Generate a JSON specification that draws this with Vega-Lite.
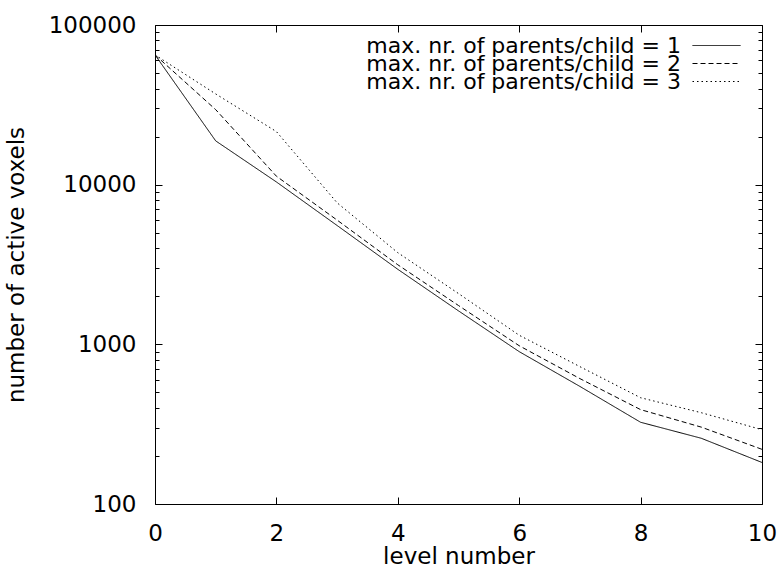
{
  "$schema": "https://vega.github.io/schema/vega-lite/v6.json",
  "width": 607,
  "height": 479,
  "autosize": "none",
  "padding": {"left": 155, "top": 25, "right": 17, "bottom": 63},
  "background": "white",
  "config": {
    "font": "DejaVu Sans",
    "view": {"stroke": "black", "strokeWidth": 1},
    "axis": {"grid": false, "domain": false, "tickColor": "black", "tickWidth": 1, "labelColor": "black", "titleColor": "black", "labelFont": "DejaVu Sans", "titleFont": "DejaVu Sans", "labelFontSize": 23, "titleFontSize": 23, "titleFontWeight": "normal", "labelFlush": false},
    "legend": {"orient": "none", "title": null, "symbolType": "stroke", "symbolSize": 2304, "symbolStrokeColor": "black", "symbolStrokeWidth": 1, "labelAlign": "right", "labelOffset": -60, "labelFontSize": 22, "labelFont": "DejaVu Sans", "labelColor": "black", "labelLimit": 600, "padding": 0}
  },
  "data": {
    "values": [
      {"series": "max. nr. of parents/child = 1", "level": 0, "voxels": 65000},
      {"series": "max. nr. of parents/child = 1", "level": 1, "voxels": 18800},
      {"series": "max. nr. of parents/child = 1", "level": 2, "voxels": 10400},
      {"series": "max. nr. of parents/child = 1", "level": 3, "voxels": 5550},
      {"series": "max. nr. of parents/child = 1", "level": 4, "voxels": 2950},
      {"series": "max. nr. of parents/child = 1", "level": 5, "voxels": 1620},
      {"series": "max. nr. of parents/child = 1", "level": 6, "voxels": 900},
      {"series": "max. nr. of parents/child = 1", "level": 7, "voxels": 545},
      {"series": "max. nr. of parents/child = 1", "level": 8, "voxels": 325},
      {"series": "max. nr. of parents/child = 1", "level": 9, "voxels": 258},
      {"series": "max. nr. of parents/child = 1", "level": 10, "voxels": 182},
      {"series": "max. nr. of parents/child = 2", "level": 0, "voxels": 65000},
      {"series": "max. nr. of parents/child = 2", "level": 1, "voxels": 29500},
      {"series": "max. nr. of parents/child = 2", "level": 2, "voxels": 11300},
      {"series": "max. nr. of parents/child = 2", "level": 3, "voxels": 6000},
      {"series": "max. nr. of parents/child = 2", "level": 4, "voxels": 3150},
      {"series": "max. nr. of parents/child = 2", "level": 5, "voxels": 1750},
      {"series": "max. nr. of parents/child = 2", "level": 6, "voxels": 980},
      {"series": "max. nr. of parents/child = 2", "level": 7, "voxels": 610},
      {"series": "max. nr. of parents/child = 2", "level": 8, "voxels": 390},
      {"series": "max. nr. of parents/child = 2", "level": 9, "voxels": 303},
      {"series": "max. nr. of parents/child = 2", "level": 10, "voxels": 220},
      {"series": "max. nr. of parents/child = 3", "level": 0, "voxels": 65000},
      {"series": "max. nr. of parents/child = 3", "level": 1, "voxels": 37000},
      {"series": "max. nr. of parents/child = 3", "level": 2, "voxels": 21500},
      {"series": "max. nr. of parents/child = 3", "level": 3, "voxels": 7700},
      {"series": "max. nr. of parents/child = 3", "level": 4, "voxels": 3750},
      {"series": "max. nr. of parents/child = 3", "level": 5, "voxels": 2080},
      {"series": "max. nr. of parents/child = 3", "level": 6, "voxels": 1140},
      {"series": "max. nr. of parents/child = 3", "level": 7, "voxels": 725},
      {"series": "max. nr. of parents/child = 3", "level": 8, "voxels": 463},
      {"series": "max. nr. of parents/child = 3", "level": 9, "voxels": 373},
      {"series": "max. nr. of parents/child = 3", "level": 10, "voxels": 292}
    ]
  },
  "layer": [
    {
      "transform": [{"filter": "datum.series == 'max. nr. of parents/child = 1'"}],
      "mark": {"type": "line", "color": "black", "strokeWidth": 1, "clip": true},
      "encoding": {
        "x": {
          "field": "level", "type": "quantitative",
          "scale": {"domain": [0, 10], "nice": false, "zero": false},
          "axis": {"orient": "bottom", "values": [0, 2, 4, 6, 8, 10], "offset": -7, "tickSize": 7, "labelPadding": 18, "title": "level number", "titlePadding": 0}
        },
        "y": {
          "field": "voxels", "type": "quantitative",
          "scale": {"type": "log", "domain": [100, 100000], "nice": false},
          "axis": {"orient": "left", "values": [100, 1000, 10000, 100000], "format": "d", "offset": -7, "tickSize": 7, "labelPadding": 19, "title": "number of active voxels", "titlePadding": 20}
        },
        "strokeDash": {
          "field": "series", "type": "nominal",
          "scale": {"domain": ["max. nr. of parents/child = 1"], "range": [[1, 0]]},
          "legend": {"legendX": 537, "legendY": -4}
        }
      }
    },
    {
      "transform": [{"filter": "datum.series == 'max. nr. of parents/child = 2'"}],
      "mark": {"type": "line", "color": "black", "strokeWidth": 1, "clip": true},
      "encoding": {
        "x": {"field": "level", "type": "quantitative", "axis": null},
        "y": {"field": "voxels", "type": "quantitative", "axis": null},
        "strokeDash": {
          "field": "series", "type": "nominal",
          "scale": {"domain": ["max. nr. of parents/child = 2"], "range": [[5, 3]]},
          "legend": {"legendX": 537, "legendY": 14}
        }
      }
    },
    {
      "transform": [{"filter": "datum.series == 'max. nr. of parents/child = 3'"}],
      "mark": {"type": "line", "color": "black", "strokeWidth": 1, "clip": true},
      "encoding": {
        "x": {"field": "level", "type": "quantitative", "axis": null},
        "y": {"field": "voxels", "type": "quantitative", "axis": null},
        "strokeDash": {
          "field": "series", "type": "nominal",
          "scale": {"domain": ["max. nr. of parents/child = 3"], "range": [[1.5, 3]]},
          "legend": {"legendX": 537, "legendY": 32}
        }
      }
    },
    {
      "mark": {"type": "line", "opacity": 0},
      "encoding": {
        "x": {"field": "level", "type": "quantitative", "axis": {"orient": "top", "values": [0, 2, 4, 6, 8, 10], "offset": -7, "tickSize": 7, "labels": false, "title": null}},
        "y": {"field": "voxels", "type": "quantitative", "axis": {"orient": "right", "values": [100, 1000, 10000, 100000], "offset": -7, "tickSize": 7, "labels": false, "title": null}},
        "detail": {"field": "series", "type": "nominal"}
      }
    },
    {
      "mark": {"type": "line", "opacity": 0},
      "encoding": {
        "x": {"field": "level", "type": "quantitative", "axis": null},
        "y": {
          "field": "voxels", "type": "quantitative",
          "axis": {"orient": "left", "values": [200, 300, 400, 500, 600, 700, 800, 900, 2000, 3000, 4000, 5000, 6000, 7000, 8000, 9000, 20000, 30000, 40000, 50000, 60000, 70000, 80000, 90000], "offset": -4, "tickSize": 4, "labels": false, "title": null}
        },
        "detail": {"field": "series", "type": "nominal"}
      }
    },
    {
      "mark": {"type": "line", "opacity": 0},
      "encoding": {
        "x": {"field": "level", "type": "quantitative", "axis": null},
        "y": {
          "field": "voxels", "type": "quantitative",
          "axis": {"orient": "right", "values": [200, 300, 400, 500, 600, 700, 800, 900, 2000, 3000, 4000, 5000, 6000, 7000, 8000, 9000, 20000, 30000, 40000, 50000, 60000, 70000, 80000, 90000], "offset": -4, "tickSize": 4, "labels": false, "title": null}
        },
        "detail": {"field": "series", "type": "nominal"}
      }
    }
  ],
  "resolve": {
    "scale": {"strokeDash": "independent"},
    "legend": {"strokeDash": "independent"},
    "axis": {"x": "independent", "y": "independent"}
  }
}
